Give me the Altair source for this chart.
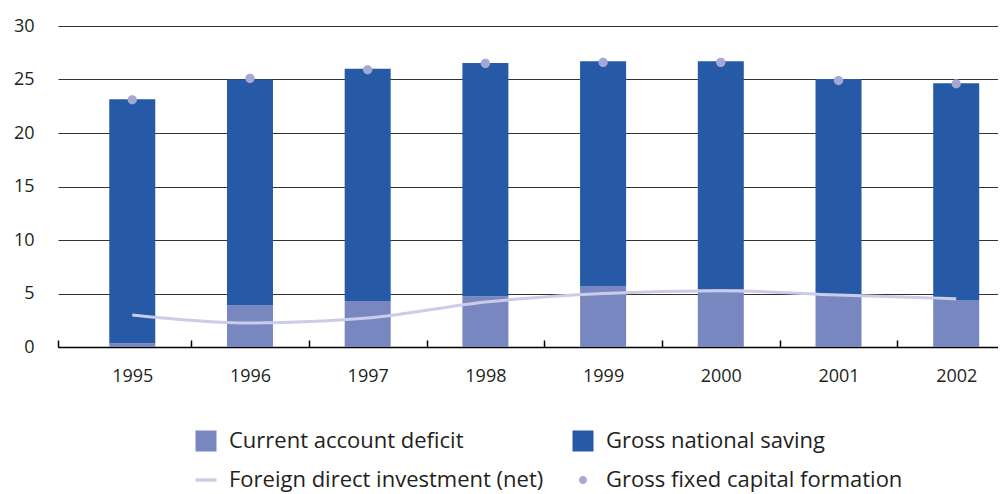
import altair as alt
import pandas as pd

years = [1995, 1996, 1997, 1998, 1999, 2000, 2001, 2002]
current_account_deficit = [0.35, 3.9, 4.3, 4.75, 5.7, 5.4, 4.9, 4.35]
gross_national_saving = [22.8, 21.1, 21.7, 21.8, 21.0, 21.3, 20.15, 20.3]
gross_fixed_capital_formation = [23.1, 25.1, 25.9, 26.5, 26.6, 26.6, 24.9, 24.6]
fdi_net = [3.0, 2.25, 2.7, 4.2, 5.0, 5.25, 4.85, 4.5]
y_ticks = [0, 5, 10, 15, 20, 25, 30]

series_names = [
    "Current account deficit",
    "Gross national saving",
    "Foreign direct investment (net)",
    "Gross fixed capital formation",
]
series_colors = ["#7987C1", "#2659A6", "#CBCCE8", "#A3A8D5"]
small_circle = "M0.38,0A0.38,0.38 0 1,1 -0.38,0A0.38,0.38 0 1,1 0.38,0Z"
series_shapes = ["square", "square", "M-1,-0.16H1V0.16H-1Z", small_circle]

x_domain = [1994.369, 2002.355]
tick_positions = [x_domain[0]] + [y + 0.5 for y in years[:-1]]

FONT = "Open Sans"
TEXT = "#231F20"
PLOT_H = 321
PLOT_W = 940

bars_df = pd.DataFrame({
    "year": years * 2,
    "value": current_account_deficit + gross_national_saving,
    "series": [series_names[0]] * len(years) + [series_names[1]] * len(years),
    "order": [0] * len(years) + [1] * len(years),
})
line_df = pd.DataFrame({"year": years, "value": fdi_net, "series": series_names[2]})
pts_df = pd.DataFrame({"year": years, "value": gross_fixed_capital_formation, "series": series_names[3]})

xscale = alt.Scale(domain=x_domain, nice=False, zero=False, padding=0)
cscale = alt.Scale(domain=series_names, range=series_colors)

legend_def = alt.Legend(
    title=None, orient="none", legendX=137, legendY=404, columns=2,
    direction="horizontal",
    columnPadding=28, rowPadding=17, labelFontSize=22, labelFont=FONT,
    labelColor=TEXT, labelOffset=12, symbolOpacity=1, symbolStrokeWidth=0,
    symbolSize=441, labelLimit=500,
)

ydef = alt.Y(
    "value:Q",
    stack="zero",
    scale=alt.Scale(domain=[0, 30], nice=False),
    axis=alt.Axis(
        values=y_ticks, grid=True, gridColor="#333333", gridWidth=1.2,
        domain=False, ticks=False, tickSize=0, labelPadding=24, title=None,
        labelFontSize=18, labelFont=FONT, labelColor=TEXT,
    ),
)

bars = alt.Chart(bars_df).mark_bar(size=46).encode(
    x=alt.X(
        "year:Q", scale=xscale,
        axis=alt.Axis(
            values=years, format="d", ticks=False, tickSize=0, labelPadding=20,
            grid=False, domain=True, domainColor="#000000", domainWidth=1.5,
            title=None, labelFontSize=18, labelFont=FONT, labelColor=TEXT,
        ),
    ),
    y=ydef,
    color=alt.Color("series:N", scale=cscale, legend=legend_def),
    order=alt.Order("order:Q", sort="ascending"),
)

line = alt.Chart(line_df).mark_line(strokeWidth=3, interpolate="monotone").encode(
    x=alt.X(
        "year:Q", scale=xscale,
        axis=alt.Axis(
            orient="top", offset=-PLOT_H, values=tick_positions, labels=False,
            domain=False, grid=False, tickSize=7, tickColor="#000000",
            tickWidth=1.5, title=None,
        ),
    ),
    y=ydef,
    color=alt.Color("series:N", scale=cscale, legend=legend_def),
)

points = alt.Chart(pts_df).mark_point(filled=True, opacity=1, size=600).encode(
    x=alt.X("year:Q", scale=xscale, axis=None),
    y=ydef,
    color=alt.Color("series:N", scale=cscale, legend=legend_def),
    shape=alt.Shape("series:N", scale=alt.Scale(domain=series_names, range=series_shapes), legend=legend_def),
)

chart = alt.layer(bars, line, points).resolve_axis(x="independent").resolve_scale(x="shared").properties(
    width=PLOT_W,
    height=PLOT_H,
    autosize=alt.AutoSizeParams(type="none"),
    padding={"left": 50, "top": 18, "right": 0, "bottom": 147},
).configure_view(stroke=None)

chart.save("out.html", embed_options={"renderer": "svg", "actions": False})
